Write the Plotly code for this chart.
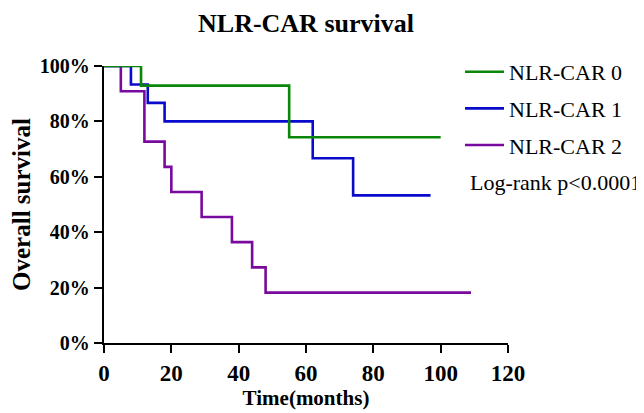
import plotly.graph_objects as go

# Kaplan-Meier step data (months, % surviving)
names = ["NLR-CAR 0", "NLR-CAR 1", "NLR-CAR 2"]
colors = ["#0a870a", "#0a0acc", "#7a0a9e"]
t0 = [0, 11, 55, 100]
s0 = [100, 92.9, 74.3, 74.3]
t1 = [0, 8, 13, 18, 62, 74, 97]
s1 = [100, 93.3, 86.7, 80.0, 66.7, 53.3, 53.3]
t2 = [0, 5, 12, 18, 20, 29, 38, 44, 48, 109]
s2 = [100, 90.9, 72.7, 63.6, 54.5, 45.5, 36.4, 27.3, 18.2, 18.2]
x_ticks = [0, 20, 40, 60, 80, 100, 120]
y_ticks = [0, 20, 40, 60, 80, 100]
y_labels = ["0%", "20%", "40%", "60%", "80%", "100%"]

FONT = "Liberation Serif, Times New Roman, serif"
# page has an 8px body margin, so the figure is drawn 8px smaller and offset
W, H = 636, 405
fig = go.Figure()
series = [(t0, s0), (t1, s1), (t2, s2)]
# draw purple first, green last (green on top)
for i in [2, 1, 0]:
    t, s = series[i]
    fig.add_trace(go.Scatter(
        x=t, y=s, mode="lines", name=names[i], legendrank=i + 1,
        legendgroup=names[i],
        line=dict(color=colors[i], width=2.6, shape="hv"),
    ))

axis_common = dict(
    showline=True, linecolor="black", linewidth=2.4,
    ticks="outside", ticklen=8, tickwidth=2.4, tickcolor="black",
    showgrid=False, zeroline=False, automargin=False,
)
fig.update_layout(
    width=W, height=H,
    margin=dict(l=96, r=136, t=58, b=70, autoexpand=False),
    plot_bgcolor="white", paper_bgcolor="white",
    title=dict(text="<b>NLR-CAR survival</b>", x=298 / W, xanchor="center",
               y=1 - 15 / H, yanchor="middle",
               font=dict(family=FONT, size=26, color="black")),
    xaxis=dict(range=[0, 120], tickvals=x_ticks,
               tickfont=dict(family=FONT, size=23, color="black", weight="bold"),
               title=dict(text="<b>Time(months)</b>", standoff=5,
                          font=dict(family=FONT, size=21, color="black")),
               **axis_common),
    yaxis=dict(range=[0, 100], tickvals=y_ticks, ticktext=y_labels,
               tickfont=dict(family=FONT, size=20, color="black", weight="bold"),
               title=dict(text="<b>Overall survival</b>", standoff=7,
                          font=dict(family=FONT, size=25, color="black")),
               **axis_common),
    legend=dict(x=(460 - 104) / 404, xanchor="left", y=(343 - 51) / 277, yanchor="top",
                traceorder="grouped", tracegroupgap=5, itemwidth=39,
                font=dict(family=FONT, size=22, color="black"),
                bgcolor="rgba(0,0,0,0)"),
    annotations=[dict(text="Log-rank p<0.0001", xref="paper", yref="paper",
                      x=(468 - 104) / 404, y=(343 - 182) / 277, xanchor="left", yanchor="middle",
                      showarrow=False,
                      font=dict(family=FONT, size=22, color="black"))],
)
fig.write_html("out.html")
